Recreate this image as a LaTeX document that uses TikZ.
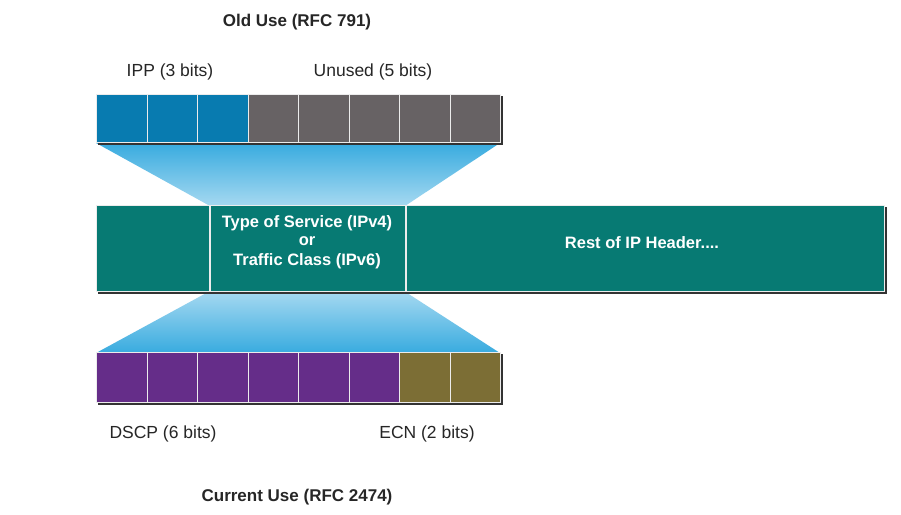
\documentclass[tikz,border=0pt]{standalone}
\usepackage{fontspec}
\setmainfont{Liberation Sans}
\usetikzlibrary{positioning}
\definecolor{ippblue}{HTML}{087BB0}
\definecolor{unusedgray}{HTML}{676264}
\definecolor{tealc}{HTML}{077A73}
\definecolor{dscppurple}{HTML}{652D89}
\definecolor{ecnolive}{HTML}{7C6E35}
\definecolor{fundark}{HTML}{38ABDF}
\definecolor{funlight}{HTML}{A6D9F1}
\definecolor{shadowc}{HTML}{333333}
\tikzset{
  cellbox/.style={draw=white!85!gray, line width=1.2pt},
  lbl/.style={font=\fontsize{17.5}{20}\selectfont, text=black!85},
  ttl/.style={font=\fontsize{17}{20}\selectfont\bfseries, text=black!85},
  inlbl/.style={font=\fontsize{16.5}{19.5}\selectfont\bfseries, text=white, align=center},
}
\begin{document}
\begin{tikzpicture}[x=1pt,y=-1pt]
\useasboundingbox[fill=white] (0,0) rectangle (901,514);
% funnels
\shade[top color=fundark, bottom color=funlight] (96,143) -- (500,143) -- (405,206) -- (210,206) -- cycle;
\shade[top color=funlight, bottom color=fundark] (210,291) -- (404,291) -- (500,353) -- (96,353) -- cycle;
% shadows
\fill[shadowc] (98,96) rectangle (503,145);
\fill[shadowc] (98,207) rectangle (887,294);
\fill[shadowc] (98,354) rectangle (503,405);
% top row
\foreach \i in {0,1,2}{
  \node[cellbox, fill=ippblue, minimum width=50.5pt, minimum height=48pt, inner sep=0pt, anchor=north west] (t\i) at ({96+50.5*\i},94) {};
}
\foreach \i in {3,...,7}{
  \node[cellbox, fill=unusedgray, minimum width=50.5pt, minimum height=48pt, inner sep=0pt, anchor=north west] (t\i) at ({96+50.5*\i},94) {};
}
% middle row
\node[cellbox, fill=tealc, minimum width=113pt, minimum height=86pt, inner sep=0pt, anchor=north west] (m0) at (96,205) {};
\node[cellbox, fill=tealc, minimum width=195pt, minimum height=86pt, inner sep=0pt, anchor=north west] (m1) at (210,205) {};
\node[inlbl] (m1t) at (307,242) {Type of Service (IPv4)\\[-1.5pt]or\\[0pt]Traffic Class (IPv6)};
\node[cellbox, fill=tealc, minimum width=478pt, minimum height=86pt, inner sep=0pt, anchor=north west] (m2) at (406,205) {};
\node[inlbl] (m2t) at (642,243) {Rest of IP Header....};
% bottom row
\foreach \i in {0,...,5}{
  \node[cellbox, fill=dscppurple, minimum width=50.5pt, minimum height=50pt, inner sep=0pt, anchor=north west] (b\i) at ({96+50.5*\i},352) {};
}
\foreach \i in {6,7}{
  \node[cellbox, fill=ecnolive, minimum width=50.5pt, minimum height=50pt, inner sep=0pt, anchor=north west] (b\i) at ({96+50.5*\i},352) {};
}
% labels
\node[ttl] (old) at (297,22) {Old Use (RFC 791)};
\node[lbl] (ipp) at (170,72) {IPP (3 bits)};
\node[lbl] (unused) at (373,72) {Unused (5 bits)};
\node[lbl] (dscp) at (163,434) {DSCP (6 bits)};
\node[lbl] (ecn) at (427,434) {ECN (2 bits)};
\node[ttl] (cur) at (297,497) {Current Use (RFC 2474)};
\end{tikzpicture}
\end{document}
